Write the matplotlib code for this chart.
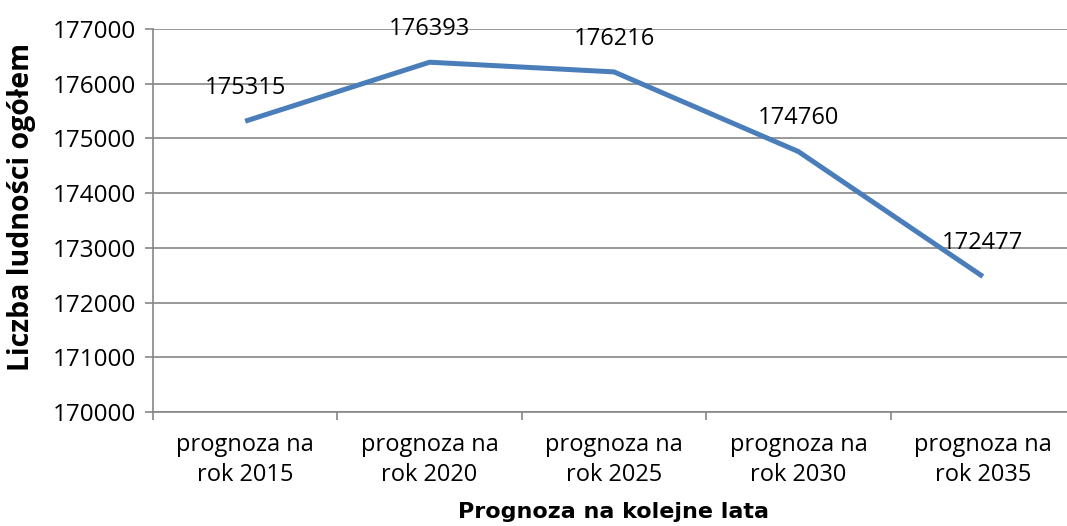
import matplotlib
matplotlib.use("Agg")
import matplotlib.pyplot as plt
import numpy as np

categories = ["prognoza na\nrok 2015", "prognoza na\nrok 2020", "prognoza na\nrok 2025",
              "prognoza na\nrok 2030", "prognoza na\nrok 2035"]
values = [175315, 176393, 176216, 174760, 172477]
yticks = [170000, 171000, 172000, 173000, 174000, 175000, 176000, 177000]

plt.rcParams['font.family'] = ['Open Sans', 'DejaVu Sans']

W, H = 1067, 526
fig = plt.figure(figsize=(W / 100, H / 100), dpi=100)
left, right, top, bottom = 153, 1075, 29, 412
ax = fig.add_axes([left / W, 1 - bottom / H, (right - left) / W, (bottom - top) / H])

x = np.arange(len(values))
ax.plot(x, values, color='#4a7ebb', lw=3.6, solid_capstyle='butt', zorder=3)
for xi, v in zip(x, values):
    ax.annotate(str(v), (xi, v), xytext=(0, 24), textcoords='offset points',
                ha='center', va='center', fontsize=17, color='black', zorder=4)

ax.set_xlim(-0.5, len(values) - 0.5)
ax.set_ylim(170000, 177000)
ax.set_yticks(yticks)
ax.set_yticklabels([str(t) for t in yticks], fontsize=17.5)
ax.set_xticks(x)
ax.set_xticklabels(categories, fontsize=17, linespacing=1.35)
ax.set_xticks(np.arange(-0.5, len(values) + 0.5, 1), minor=True)
ax.tick_params(axis='x', which='major', length=0, pad=15)
ax.tick_params(axis='x', which='minor', length=6, color='#868686', width=1.2)
ax.tick_params(axis='y', length=6, color='#868686', width=1.2, pad=6)

ax.grid(axis='y', color='#868686', lw=1.2)
ax.set_axisbelow(True)
for s in ['top', 'right']:
    ax.spines[s].set_visible(False)
for s in ['left', 'bottom']:
    ax.spines[s].set_color('#868686')
    ax.spines[s].set_linewidth(1.2)

fig.text(0.5 * (left + right) / W, 1 - 512 / H, "Prognoza na kolejne lata",
         ha='center', va='center', fontsize=16, fontweight='bold',
         family=['DejaVu Sans'])
fig.text(22 / W, 1 - 207 / H, "Liczba ludności ogółem", rotation=90,
         ha='center', va='center', fontsize=20.5, fontweight='bold')

fig.savefig("out.png", dpi=100)
